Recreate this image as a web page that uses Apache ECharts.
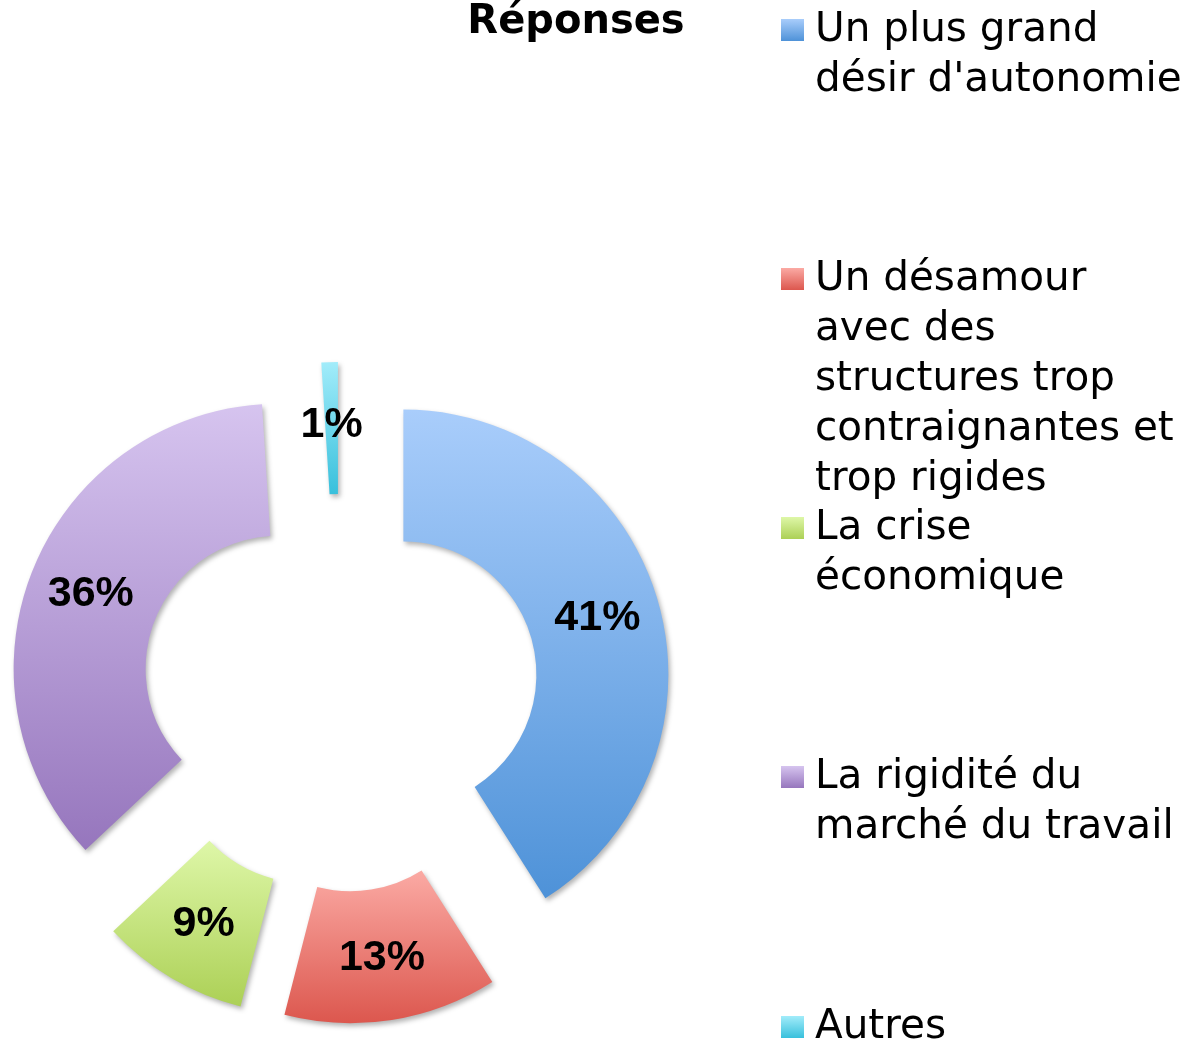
<!DOCTYPE html>
<html>
<head>
<meta charset="utf-8">
<title>Réponses</title>
<script src="https://cdn.jsdelivr.net/npm/echarts@6/dist/echarts.min.js"></script>
<style>
  html, body { margin: 0; padding: 0; background: #fff; }
  #chart { width: 1202px; height: 1045px; }
</style>
</head>
<body>
<div id="chart"></div>
<script>
  const categories = [
    'Un plus grand désir d\'autonomie',
    'Un désamour avec des structures trop contraignantes et trop rigides',
    'La crise économique',
    'La rigidité du marché du travail',
    'Autres',
  ];
  const legendLines = [
    ['Un plus grand', 'désir d\'autonomie'],
    ['Un désamour', 'avec des', 'structures trop', 'contraignantes et', 'trop rigides'],
    ['La crise', 'économique'],
    ['La rigidité du', 'marché du travail'],
    ['Autres'],
  ];
  const values = [41, 13, 9, 36, 1];
  // top / bottom tones of each slice gradient
  const topColors = ['#a9cdfb', '#fbaaa4', '#def7a8', '#d6c4ef', '#a2ecfa'];
  const bottomColors = ['#4e92d8', '#dc574e', '#acd056', '#9676bd', '#38c0dc'];

  const FONT = '"DejaVu Sans", sans-serif';
  const LINE = 50;

  function grad(i) {
    return new echarts.graphic.LinearGradient(0, 0, 0, 1, [
      { offset: 0, color: topColors[i] },
      { offset: 1, color: bottomColors[i] },
    ]);
  }

  // y of each legend square centre (first line of its text)
  const iconCenters = [30, 279, 528, 777, 1027];

  const legends = categories.map((name, i) => {
    const n = legendLines[i].length;
    // blank lines on top keep the first text line level with the square
    const text = '\n'.repeat(n - 1) + legendLines[i].join('\n');
    return {
      show: true,
      data: [name],
      orient: 'vertical',
      left: 781,
      top: iconCenters[i] - LINE * (2 * n - 1) / 2,
      padding: 0,
      // square plus an empty point to the right, which widens the gap before the text
      icon: 'path://M0,-1L23,-1L23,21L0,21Z M29,21',
      itemWidth: 29,
      itemHeight: 22,
      itemGap: 0,
      selectedMode: false,
      formatter: () => text,
      textStyle: {
        fontFamily: FONT,
        fontSize: 40.5,
        lineHeight: LINE,
        color: '#000',
      },
    };
  });

  const chart = echarts.init(document.getElementById('chart'), null, { renderer: 'canvas' });
  chart.setOption({
    animation: false,
    title: {
      text: 'Réponses',
      left: 571,
      textAlign: 'center',
      top: -2,
      textStyle: { fontFamily: FONT, fontSize: 40, fontWeight: 'bold', color: '#000' },
    },
    legend: legends,
    series: [
      {
        type: 'pie',
        center: [340, 693],
        radius: [133, 265],
        startAngle: 90,
        clockwise: true,
        selectedMode: 'multiple',
        selectedOffset: 66,
        avoidLabelOverlap: false,
        emphasis: { disabled: true },
        label: {
          show: true,
          position: 'inside',
          formatter: '{c}%',
          fontFamily: '"Liberation Sans", sans-serif',
          fontSize: 43,
          fontWeight: 'bold',
          color: '#000',
          offset: [0, 5],
        },
        labelLine: { show: false },
        itemStyle: {
          shadowBlur: 5,
          shadowOffsetX: 2,
          shadowOffsetY: 3,
          shadowColor: 'rgba(0,0,0,0.3)',
        },
        data: categories.map((name, i) => ({
          name: name,
          value: values[i],
          selected: true,
          itemStyle: { color: grad(i) },
          select: { itemStyle: { color: grad(i), borderWidth: 0 } },
        })),
      },
    ],
  });
</script>
</body>
</html>
